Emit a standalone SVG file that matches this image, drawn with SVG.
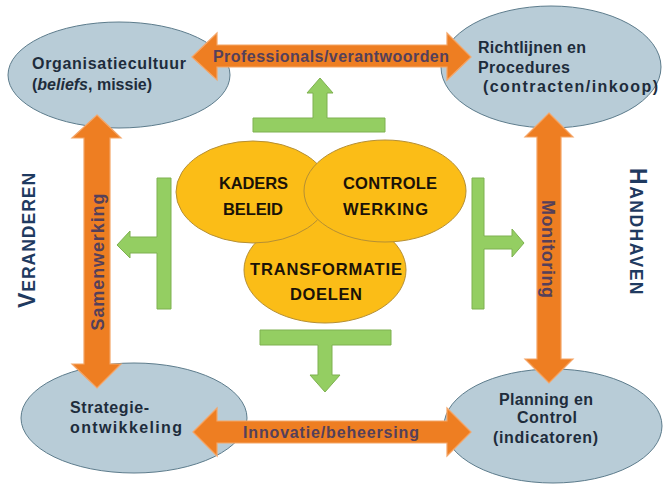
<svg xmlns="http://www.w3.org/2000/svg" width="663" height="486" viewBox="0 0 663 486">
<style>
.oval{fill:#b8ccd7;stroke:#5d7c8c;stroke-width:1}
.gold{fill:#fbbd17;stroke:#b58f34;stroke-width:1}
.orange{fill:#ee7e22;stroke:#f4a567;stroke-width:1.2}
.green{fill:#94ce62;stroke:#7eb150;stroke-width:1}
.nt{font-family:"Liberation Sans",Arial,sans-serif;font-weight:700;font-size:16px;fill:#1e2c3c}
.gt{font-family:"Liberation Sans",Arial,sans-serif;font-weight:700;font-size:16.5px;fill:#1a1208}
.at{font-family:"Liberation Sans",Arial,sans-serif;font-weight:700;font-size:16px;fill:#54405a}
.vt{font-family:"Liberation Sans",Arial,sans-serif;font-weight:700;font-size:18px;fill:#54405a}
.side{font-family:"Liberation Sans",Arial,sans-serif;font-weight:700;fill:#1f3a60}
</style>
<rect width="663" height="486" fill="#ffffff"/>
<g id="node-organisatiecultuur">
  <ellipse class="oval" cx="119" cy="75" rx="111" ry="53"/>
  <text class="nt" x="32" y="69" textLength="154">Organisatiecultuur</text>
  <text class="nt" x="32" y="90">(<tspan font-style="italic">beliefs</tspan>, missie)</text>
</g>
<g id="node-richtlijnen">
  <ellipse class="oval" cx="551" cy="67" rx="110" ry="61"/>
  <text class="nt" x="478" y="53" textLength="108">Richtlijnen en</text>
  <text class="nt" x="478" y="73" textLength="92">Procedures</text>
  <text class="nt" x="483" y="92" textLength="175">(contracten/inkoop)</text>
</g>
<g id="node-strategie">
  <ellipse class="oval" cx="134" cy="418" rx="113" ry="55"/>
  <text class="nt" x="70" y="413" textLength="79">Strategie-</text>
  <text class="nt" x="70" y="433" textLength="112">ontwikkeling</text>
</g>
<g id="node-planning">
  <ellipse class="oval" cx="553" cy="426" rx="109" ry="57"/>
  <text class="nt" x="499" y="405" textLength="94">Planning en</text>
  <text class="nt" x="517" y="423" textLength="60">Control</text>
  <text class="nt" x="493" y="443" textLength="105">(indicatoren)</text>
</g>
<g id="connectors">
  <polygon class="orange" points="192,57 217,33 217,45 447,45 447,33 471,57 447,80 447,67 217,67 217,80"/>
  <polygon class="orange" points="193,432 217,408 217,421 447,421 447,408 471,432 447,456 447,443 217,443 217,456"/>
  <polygon class="orange" points="97,115 121,138 110,138 110,364 121,364 97,388 72,364 84,364 84,138 72,138"/>
  <polygon class="orange" points="549,113 573,137 561,137 561,359 573,359 549,383 525,359 537,359 537,137 525,137"/>
  <polygon class="green" points="253,132 385,132 385,118 327,118 327,93 333,93 320,78 307,93 313,93 313,118 253,118"/>
  <polygon class="green" points="260,330 391,330 391,345 332,345 332,375 340,375 325,392 310,375 318,375 318,345 260,345"/>
  <polygon class="green" points="171,178 171,309 157,309 157,253 130,253 130,258 117,245 130,231 130,237 157,237 157,178"/>
  <polygon class="green" points="472,178 484,178 484,236 512,236 512,229 524,243 512,257 512,249 484,249 484,309 472,309"/>
</g>
<g id="node-transformatie">
  <ellipse class="gold" cx="325" cy="270" rx="81" ry="53"/>
  <text class="gt" x="250" y="275" textLength="152">TRANSFORMATIE</text>
  <text class="gt" x="290" y="300" textLength="72">DOELEN</text>
</g>
<g id="node-kaders">
  <ellipse class="gold" cx="253" cy="192" rx="77" ry="51"/>
  <text class="gt" x="219" y="189" textLength="69">KADERS</text>
  <text class="gt" x="223" y="215" textLength="60">BELEID</text>
</g>
<g id="node-controle">
  <ellipse class="gold" cx="385" cy="191" rx="81" ry="51"/>
  <text class="gt" x="343" y="189" textLength="94">CONTROLE</text>
  <text class="gt" x="343" y="215" textLength="85">WERKING</text>
</g>
<g id="labels">
  <text class="at" x="213" y="62" textLength="236">Professionals/verantwoorden</text>
  <text class="at" x="243" y="438" textLength="176">Innovatie/beheersing</text>
  <text class="vt" transform="translate(104,262) rotate(-90)" text-anchor="middle" textLength="137">Samenwerking</text>
  <text class="vt" transform="translate(542,249) rotate(90)" text-anchor="middle" textLength="98">Monitoring</text>
  <text class="side" transform="translate(35,240) rotate(-90)" text-anchor="middle" letter-spacing="1"><tspan font-size="23">V</tspan><tspan font-size="17.5">ERANDEREN</tspan></text>
  <text class="side" transform="translate(630,232) rotate(90)" text-anchor="middle" letter-spacing="1.5"><tspan font-size="23">H</tspan><tspan font-size="17.5">ANDHAVEN</tspan></text>
</g>
</svg>
